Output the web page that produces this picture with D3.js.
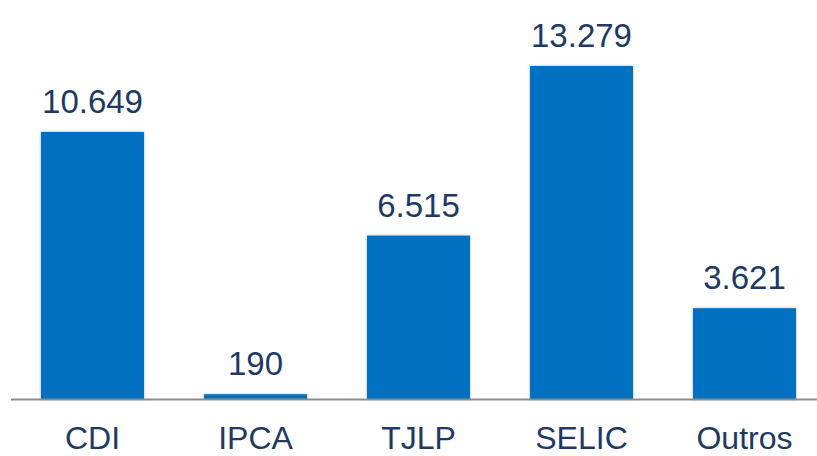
<!DOCTYPE html>
<html lang="pt">
<head>
<meta charset="UTF-8">
<title>Indexadores</title>
<script src="https://d3js.org/d3.v7.min.js"></script>
<style>
  body { margin: 0; background: #fff; font-family: "Liberation Sans", Arial, sans-serif; }
  svg { display: block; }
</style>
</head>
<body>
<div id="chart"></div>
<script>
const categories = ["CDI", "IPCA", "TJLP", "SELIC", "Outros"];
const values = [10649, 190, 6515, 13279, 3621];
const valueLabels = ["10.649", "190", "6.515", "13.279", "3.621"];

const W = 817, H = 456;
const baseY = 399;   // baseline of the bars
const topY = 66;     // top of the tallest bar

const svg = d3.select("#chart").append("svg")
  .attr("width", W).attr("height", H);

const defs = svg.append("defs");
const shadow = defs.append("filter").attr("id", "shadow")
  .attr("x", "-10%").attr("y", "-10%").attr("width", "120%").attr("height", "120%");
shadow.append("feDropShadow")
  .attr("dx", 0).attr("dy", 0).attr("stdDeviation", 1.5)
  .attr("flood-color", "#000").attr("flood-opacity", 0.3);

const x = d3.scaleBand().domain(categories).range([41, 796]).paddingInner(0.368).paddingOuter(0);
const y = d3.scaleLinear().domain([0, d3.max(values)]).range([baseY, topY]);

// bars
svg.selectAll("rect.bar")
  .data(values)
  .join("rect")
  .attr("class", "bar")
  .attr("x", (d, i) => x(categories[i]))
  .attr("y", d => y(d))
  .attr("width", x.bandwidth())
  .attr("height", d => baseY - y(d))
  .attr("fill", "#0070C0")
  .attr("filter", "url(#shadow)");

// baseline
svg.append("line")
  .attr("x1", 11).attr("x2", W)
  .attr("y1", baseY + 0.5).attr("y2", baseY + 0.5)
  .attr("stroke", "#8c8c8c").attr("stroke-width", 2);

// category axis
const xAxis = svg.append("g")
  .attr("transform", `translate(0,${baseY})`)
  .call(d3.axisBottom(x).tickSize(0).tickPadding(0));
xAxis.select(".domain").remove();
xAxis.selectAll("text")
  .attr("y", 50)
  .attr("dy", 0)
  .style("font-family", "'Liberation Sans', Arial, sans-serif")
  .style("font-size", "32px")
  .attr("fill", "#1F3864");

// value labels
svg.selectAll("text.val")
  .data(values)
  .join("text")
  .attr("class", "val")
  .attr("x", (d, i) => x(categories[i]) + x.bandwidth() / 2)
  .attr("y", d => y(d) - 19)
  .attr("text-anchor", "middle")
  .style("font-size", "33px")
  .attr("fill", "#1F3864")
  .text((d, i) => valueLabels[i]);
</script>
</body>
</html>
